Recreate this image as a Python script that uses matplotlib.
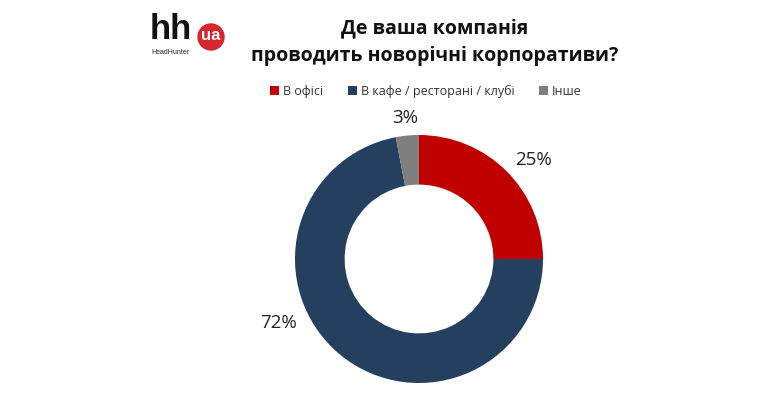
import matplotlib.pyplot as plt
from matplotlib.patches import Circle

plt.rcParams['font.family'] = ['Open Sans', 'DejaVu Sans']

categories = ['В офісі', 'В кафе / ресторані / клубі', 'Інше']
shares = [25, 72, 3]
colors = ['#C00000', '#253F5E', '#7F7F7F']
title = 'Де ваша компанія\nпроводить новорічні корпоративи?'

# label positions in axes data units (radius = 1)
label_pos = [(0.92, 0.80), (-1.13, -0.52), (-0.11, 1.14)]

W, H = 784, 409
fig = plt.figure(figsize=(W / 100, H / 100), dpi=100)
fig.patch.set_facecolor('white')

cx, cy, r = 419, 259, 124
ax = fig.add_axes([(cx - r) / W, (H - cy - r) / H, 2 * r / W, 2 * r / H])
wedges, _ = ax.pie(shares, colors=colors, startangle=90, counterclock=False,
                   radius=1, wedgeprops=dict(width=0.4, edgecolor='none'))
ax.set_xlim(-1, 1)
ax.set_ylim(-1, 1)
ax.set_aspect('equal')
ax.axis('off')

for (x, y), v in zip(label_pos, shares):
    ax.text(x, y, f'{v}%', ha='center', va='center', fontsize=13.5,
            color='#222222', clip_on=False)

# title
fig.text(435 / W, 1 - 42 / H, title, ha='center', va='center', fontsize=14,
         fontweight='bold', linespacing=1.55, color='#111111')

# legend
leg = fig.legend(wedges, categories, loc='center', bbox_to_anchor=(426 / W, 1 - 91 / H),
                 ncol=3, frameon=False, fontsize=9, handlelength=0.7, handleheight=0.7,
                 handletextpad=0.3, columnspacing=2.0)
for t in leg.get_texts():
    t.set_color('#333333')

# logo
logo_ax = fig.add_axes([0, 0, 1, 1], zorder=-1)
logo_ax.set_xlim(0, W)
logo_ax.set_ylim(H, 0)
logo_ax.axis('off')
logo_ax.text(150, 39, 'hh', ha='left', va='baseline', fontsize=25,
             fontweight='bold', color='#111111', family=['Liberation Sans'])
logo_ax.text(151, 53, 'HeadHunter', ha='left', va='center', fontsize=5,
             color='#222222', family=['Liberation Sans'])
logo_ax.add_patch(Circle((211, 37), 13, color='#D6262E'))
logo_ax.text(211, 36, 'ua', ha='center', va='center', fontsize=12,
             fontweight='bold', color='white', family=['Liberation Sans'])

fig.savefig('out.png', dpi=100)
